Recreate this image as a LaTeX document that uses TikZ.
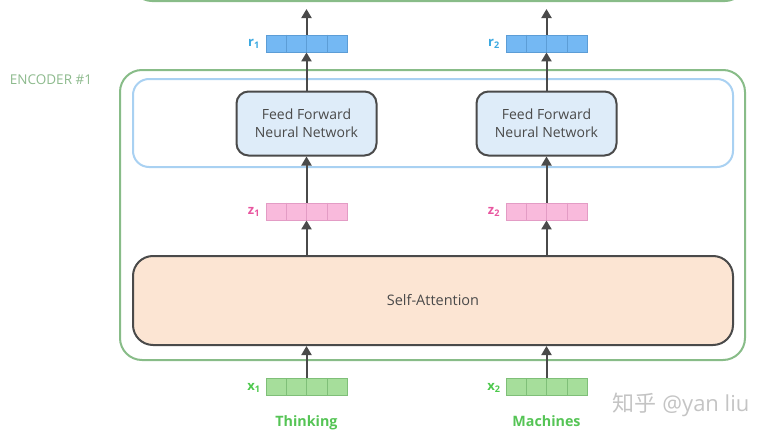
\documentclass[tikz,border=0pt]{standalone}
\usepackage{fontspec}
\setmainfont{Open Sans}
\newfontfamily\cjk{Noto Sans CJK SC}
\usetikzlibrary{arrows.meta,calc}
\definecolor{encgreen}{HTML}{88BC88}
\definecolor{enclabel}{HTML}{8DBA8D}
\definecolor{ffnnblue}{HTML}{A9D1F2}
\definecolor{ffnnfill}{HTML}{DEECF9}
\definecolor{safill}{HTML}{FCE5D3}
\definecolor{darkline}{HTML}{4A4A4A}
\definecolor{rfill}{HTML}{74B8F3}
\definecolor{rborder}{HTML}{5C9DD6}
\definecolor{rlabel}{HTML}{3AA8E0}
\definecolor{zfill}{HTML}{F9BADC}
\definecolor{zborder}{HTML}{E39CC5}
\definecolor{zlabel}{HTML}{E8559F}
\definecolor{xfill}{HTML}{A6DE9B}
\definecolor{xborder}{HTML}{7FBF78}
\definecolor{xlabel}{HTML}{4CC84C}
\definecolor{wordgreen}{HTML}{55C455}
\definecolor{wm}{HTML}{C4C4C4}
\newcommand\cellsplit[2]{%
  \foreach \i in {1,2,3}
    \draw[#2, line width=0.8pt] ($(#1.north west)!\i/4!(#1.north east)$) -- ($(#1.south west)!\i/4!(#1.south east)$);}
\tikzset{
  vecbox/.style={minimum width=81pt, minimum height=17pt, inner sep=0pt, line width=0.8pt},
  rvec/.style={vecbox, draw=rborder, fill=rfill},
  zvec/.style={vecbox, draw=zborder, fill=zfill},
  xvec/.style={vecbox, draw=xborder, fill=xfill},
  veclabel/.style={font=\bfseries\fontsize{13}{14}\selectfont, inner sep=0pt},
  ffnn/.style={draw=darkline, line width=2pt, fill=ffnnfill, rounded corners=12pt, minimum width=140pt, minimum height=64pt, align=center, font=\fontsize{14}{18}\selectfont, text=darkline},
  arr/.style={draw=darkline, line width=2pt, -{Triangle[length=9pt,width=10pt]}},
  word/.style={font=\bfseries\fontsize{14.3}{16}\selectfont, text=wordgreen, anchor=base, inner sep=0pt},
}
\begin{document}
\begin{tikzpicture}[x=1pt,y=-1pt]
\useasboundingbox (0,0) rectangle (772,439);
\clip (0,0) rectangle (772,439);
% previous encoder (top, cut off)
\node[draw=encgreen, line width=2pt, rounded corners=20pt, minimum width=613pt, minimum height=60pt, inner sep=0pt] (prevenc) at (438.5,-29) {};
% encoder #1
\node[draw=encgreen, line width=2pt, rounded corners=22pt, minimum width=625pt, minimum height=290pt, inner sep=0pt] (enc) at (432.5,215) {};
\node[text=enclabel, font=\fontsize{13.5}{15}\selectfont, inner sep=0pt] (enclab) at (51,80) {ENCODER \#1};
% feed-forward band
\node[draw=ffnnblue, line width=2pt, fill=white, rounded corners=16pt, minimum width=600pt, minimum height=88pt, inner sep=0pt] (band) at (433,123) {};
\node[ffnn] (ff1) at (306.5,123.5) {Feed Forward\\Neural Network};
\node[ffnn] (ff2) at (546.5,123.5) {Feed Forward\\Neural Network};
% self-attention
\node[draw=darkline, line width=2pt, fill=safill, rounded corners=20pt, minimum width=600pt, minimum height=89pt, inner sep=0pt, font=\fontsize{14.5}{16}\selectfont, text=darkline] (sa) at (433,300.5) {Self-Attention};
% vectors
\node[rvec] (r1) at (306.5,43.5) {}; \cellsplit{r1}{rborder}
\node[rvec] (r2) at (546.5,43.5) {}; \cellsplit{r2}{rborder}
\node[zvec] (z1) at (306.5,211.5) {}; \cellsplit{z1}{zborder}
\node[zvec] (z2) at (546.5,211.5) {}; \cellsplit{z2}{zborder}
\node[xvec] (x1) at (306.5,387) {}; \cellsplit{x1}{xborder}
\node[xvec] (x2) at (546.5,387) {}; \cellsplit{x2}{xborder}
% vector labels
\node[veclabel, text=rlabel] (lr1) at (254,44) {r\textsubscript{1}};
\node[veclabel, text=rlabel] (lr2) at (494,44) {r\textsubscript{2}};
\node[veclabel, text=zlabel] (lz1) at (254,212) {z\textsubscript{1}};
\node[veclabel, text=zlabel] (lz2) at (494,212) {z\textsubscript{2}};
\node[veclabel, text=xlabel] (lx1) at (254,388) {x\textsubscript{1}};
\node[veclabel, text=xlabel] (lx2) at (494,388) {x\textsubscript{2}};
% words
\node[word] (w1) at (306.5,426) {Thinking};
\node[word] (w2) at (546.5,426) {Machines};
% arrows
\coordinate (t1) at (306.5,9);
\coordinate (t2) at (546.5,9);
\draw[arr] (r1.north) -- (t1);
\draw[arr] (r2.north) -- (t2);
\draw[arr] (ff1.north) -- (r1.south);
\draw[arr] (ff2.north) -- (r2.south);
\draw[arr] (z1.north) -- (ff1.south);
\draw[arr] (z2.north) -- (ff2.south);
\draw[arr] (sa.north -| z1) -- (z1.south);
\draw[arr] (sa.north -| z2) -- (z2.south);
\draw[arr] (x1.north) -- (sa.south -| x1);
\draw[arr] (x2.north) -- (sa.south -| x2);
% watermark
\node[text=wm, font=\fontsize{22}{24}\selectfont, inner sep=0pt] (wmark) at (681,405) {{\cjk 知乎} @yan liu};
\end{tikzpicture}
\end{document}
